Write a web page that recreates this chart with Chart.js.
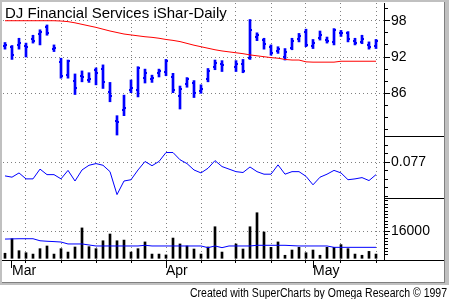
<!DOCTYPE html>
<html>
<head>
<meta charset="utf-8">
<script src="https://cdn.jsdelivr.net/npm/chart.js@4/dist/chart.umd.min.js"></script>
<style>
  html, body { margin: 0; padding: 0; background: #fff; }
</style>
</head>
<body>
<canvas id="chart" width="449" height="299"></canvas>
<script>
// trading day index (one slot per weekday, day 32 has no data)
var days = [0, 1, 2, 3, 4, 5, 6, 7, 8, 9, 10, 11, 12, 13, 14, 15, 16, 17, 18, 19,
  20, 21, 22, 23, 24, 25, 26, 27, 28, 29, 30, 31, 32, 33, 34, 35, 36, 37, 38, 39,
  40, 41, 42, 43, 44, 45, 46, 47, 48, 49, 50, 51, 52, 53];

var priceHigh = [94.4, 93.9, 95.1, 94.3, 95.6, 96.5, 97.3, 94.0, 91.8, 91.5,
  89.2, 89.7, 89.4, 90.2, 90.7, 87.8, 82.3, 85.7, 88.2, 90.4,
  90.0, 89.0, 90.0, 91.6, 89.3, 87.2, 88.6, 88.1, 87.4, 90.1,
  91.5, 91.4, null, 91.4, 91.6, 98.2, 96.0, 95.1, 94.0, 93.7,
  93.4, 95.1, 95.9, 96.6, 94.9, 96.3, 95.3, 96.7, 96.4, 96.2,
  95.1, 95.6, 94.5, 94.9];
var priceLow = [93.3, 91.6, 93.3, 92.0, 94.3, 94.0, 95.6, 92.9, 88.5, 88.5,
  85.8, 87.9, 87.8, 87.4, 86.8, 84.6, 79.1, 82.3, 86.1, 85.4,
  87.7, 87.8, 88.7, 88.9, 86.1, 83.4, 87.0, 85.3, 86.0, 87.9,
  89.9, 89.6, null, 89.6, 89.4, 91.6, 94.7, 93.3, 92.3, 92.6,
  91.5, 93.2, 94.5, 93.7, 93.4, 94.8, 94.3, 94.0, 95.4, 94.5,
  94.0, 94.2, 93.3, 93.4];
var priceOpen = [93.8, 93.7, 94.0, 93.9, 94.9, 95.8, 96.9, 93.4, 91.2, 89.0,
  88.0, 88.9, 88.2, 89.8, 90.0, 86.2, 81.4, 83.2, 86.6, 86.5,
  88.6, 88.3, 89.3, 89.5, 88.7, 85.6, 87.5, 87.7, 86.4, 88.3,
  90.4, 90.9, null, 90.3, 90.9, 91.9, 95.3, 94.8, 93.6, 93.0,
  92.0, 93.5, 95.0, 96.2, 93.8, 95.2, 94.8, 94.4, 95.9, 95.9,
  94.6, 94.5, 94.0, 93.8];
var priceClose = [94.0, 92.4, 94.3, 93.6, 94.6, 96.2, 96.0, 93.5, 88.9, 91.3,
  86.8, 88.7, 88.4, 89.4, 87.8, 85.6, 81.2, 83.6, 86.9, 90.2,
  89.3, 88.6, 89.7, 91.4, 86.6, 86.7, 88.3, 86.0, 86.7, 89.7,
  91.0, 90.6, null, 90.8, 89.7, 96.5, 95.6, 94.1, 92.7, 93.3,
  92.9, 94.7, 95.4, 94.0, 94.3, 95.6, 94.7, 96.5, 96.0, 95.0,
  94.3, 95.0, 93.6, 94.6];
var priceAvg = [98.0, 98.0, 98.0, 98.0, 98.0, 98.0, 98.0, 98.0, 97.95, 97.85,
  97.65, 97.4, 97.15, 96.9, 96.6, 96.3, 96.05, 95.8, 95.65, 95.5,
  95.35, 95.25, 95.1, 94.9, 94.75, 94.55, 94.25, 93.95, 93.7, 93.45,
  93.2, 93.0, 92.85, 92.7, 92.55, 92.35, 92.2, 92.05, 91.9, 91.8,
  91.6, 91.5, 91.5, 91.2, 91.15, 91.15, 91.15, 91.15, 91.3, 91.3,
  91.3, 91.3, 91.3, 91.3];
var indicator = [0.0738, 0.0735, 0.0745, 0.0731, 0.0731, 0.0754, 0.0741, 0.0741, 0.0731, 0.0751,
  0.0726, 0.0752, 0.0763, 0.0767, 0.0763, 0.0748, 0.0694, 0.0726, 0.0729, 0.0752,
  0.0772, 0.0762, 0.0772, 0.0793, 0.0793, 0.0776, 0.0767, 0.0752, 0.0745, 0.0756,
  0.0774, 0.0760, 0.0754, 0.0748, 0.0746, 0.0759, 0.0748, 0.0742, 0.0742, 0.0764,
  0.0742, 0.0748, 0.0748, 0.0737, 0.0717, 0.0735, 0.0742, 0.0751, 0.0745, 0.0729,
  0.0731, 0.0734, 0.0727, 0.0741];
var volume = [3000, 11600, 4500, 3300, 2500, 5700, 7300, 2500, 5700, 3700,
  6700, 18000, 6900, 5700, 10400, 14400, 10400, 10800, 3700, 5700,
  9700, 2500, 2500, 2000, 12000, 8500, 7300, 5500, 2500, 6700,
  18700, 3700, null, 8500, 5500, 18700, 27000, 15600, 6500, 9700,
  1800, 4900, 6500, 3300, 4900, 1800, 6500, 6500, 8100, 5700,
  2500, 1800, 4100, 2500];
var volumeAvg = [11400, 11500, 11600, 11600, 11600, 10400, 10100, 9900, 9650, 8500,
  8500, 8500, 7900, 7300, 7300, 7300, 7300, 7300, 7300, 7300,
  7700, 7300, 7300, 7300, 7300, 7300, 7300, 7300, 7300, 6300,
  7300, 6300, 7300, 7300, 7300, 7300, 7700, 7700, 7700, 7700,
  7700, 7500, 7300, 7300, 7300, 7300, 7300, 6500, 6500, 6500,
  6500, 6500, 6500, 6500];

var weekDays = [3, 8, 13, 18, 23, 28, 33, 38, 43, 48, 53];
var monthDays = [1, 23, 44];
var monthNames = ["Mar", "Apr", "May"];
var priceTicks = [98, 92, 86];
var priceMinor = [100, 96, 94, 90, 88, 84, 82, 80];
var indicatorTicks = [0.077];
var indicatorMinor = [0.083, 0.081, 0.079, 0.075, 0.073, 0.071, 0.069];
var volumeTicks = [16000];
var volumeMinor = [2000, 4000, 6000, 8000, 10000, 12000, 14000, 18000, 20000,
  22000, 24000, 26000, 28000, 30000, 32000, 34000];

var chartTitle = "DJ Financial Services iShar-Daily";
var footer = "Created with SuperCharts by Omega Research \u00a9 1997";

var FONT = '"Liberation Sans", Arial, sans-serif';
Chart.defaults.font.family = FONT;

function points(values) {
  var out = [];
  days.forEach(function (d, i) {
    if (values[i] != null) out.push({ x: d, y: values[i] });
  });
  return out;
}
function ranges() {
  var out = [];
  days.forEach(function (d, i) {
    if (priceHigh[i] != null) out.push({ x: d, y: [priceLow[i], priceHigh[i]] });
  });
  return out;
}
function fixedTicks(list) {
  return function (scale) {
    scale.ticks = list.map(function (v) { return { value: v }; });
  };
}
function fitRight(scale) {
  scale.width = 60;
  scale.paddingTop = 0;
  scale.paddingBottom = 0;
}
function row(p) { return Math.round(p - 0.5); }

var decor = {
  id: "decor",
  beforeDraw: function (chart) {
    var ctx = chart.ctx;
    ctx.save();
    ctx.fillStyle = "#fff";
    ctx.fillRect(0, 0, 449, 299);
    ctx.fillStyle = "#c0c0c0";
    ctx.fillRect(0, 0, 449, 285);
    ctx.fillStyle = "#fff";
    ctx.fillRect(2, 2, 442, 280);
    ctx.fillStyle = "#808080";
    ctx.fillRect(444, 2, 1, 281);
    ctx.fillRect(2, 282, 443, 1);
    ctx.restore();
  },
  beforeDatasetsDraw: function (chart) {
    var ctx = chart.ctx;
    ctx.save();
    ctx.font = "15px " + FONT;
    var w = ctx.measureText(chartTitle).width;
    ctx.fillStyle = "#fff";
    ctx.fillRect(3, 3, w + 4, 17);
    ctx.fillStyle = "#000";
    ctx.textBaseline = "alphabetic";
    ctx.fillText(chartTitle, 5, 18);
    ctx.restore();
  },
  afterDatasetDraw: function (chart, args) {
    if (args.index !== 3) return;
    var ctx = chart.ctx, x = chart.scales.x, y = chart.scales.yP;
    ctx.save();
    ctx.fillStyle = "#0000ff";
    days.forEach(function (d, i) {
      if (priceOpen[i] == null) return;
      var px = Math.round(x.getPixelForValue(d));
      ctx.fillRect(px - 2, Math.round(y.getPixelForValue(priceOpen[i])) - 1, 1, 2);
      ctx.fillRect(px + 1, Math.round(y.getPixelForValue(priceClose[i])) - 1, 1, 2);
    });
    ctx.restore();
  },
  afterDraw: function (chart) {
    var ctx = chart.ctx, s = chart.scales;
    ctx.save();
    ctx.fillStyle = "#000";
    // pane separators in the axis column and the full-width base line
    ctx.fillRect(s.yP.left, Math.round(s.yP.bottom), 444 - s.yP.left, 1);
    ctx.fillRect(s.yI.left, Math.round(s.yI.bottom), 444 - s.yI.left, 1);
    ctx.fillRect(2, Math.round(s.x.top), 442, 1);
    // minor ticks
    [[s.yP, priceMinor], [s.yI, indicatorMinor], [s.yV, volumeMinor]].forEach(function (p) {
      p[1].forEach(function (v) {
        var py = p[0].getPixelForValue(v);
        if (py < p[0].top + 1 || py > p[0].bottom - 1) return;
        ctx.fillRect(p[0].left + 1, row(py), 3, 1);
      });
    });
    // longer month ticks
    monthDays.forEach(function (d) {
      ctx.fillRect(row(s.x.getPixelForValue(d)), Math.round(s.x.top) + 3, 1, 5);
    });
    // footer
    ctx.font = "12px " + FONT;
    var w = ctx.measureText(footer).width;
    ctx.translate(447, 297);
    ctx.scale(257 / w, 1);
    ctx.textAlign = "right";
    ctx.textBaseline = "alphabetic";
    ctx.fillText(footer, 0, 0);
    ctx.restore();
  }
};

var ctx = document.getElementById("chart").getContext("2d");
var chart = new Chart(ctx, {
  type: "line",
  data: {
    datasets: [
      { label: "Average", data: points(priceAvg), yAxisID: "yP",
        borderColor: "#ff0000", borderWidth: 1, pointRadius: 0, tension: 0, spanGaps: true },
      { label: "Indicator", data: points(indicator), yAxisID: "yI",
        borderColor: "#0000ff", borderWidth: 1, pointRadius: 0, tension: 0 },
      { label: "Volume average", data: points(volumeAvg), yAxisID: "yV",
        borderColor: "#0000ff", borderWidth: 1, pointRadius: 0, tension: 0 },
      { type: "bar", label: "Price", data: ranges(), yAxisID: "yP",
        backgroundColor: "#0000ff", barThickness: 2, grouped: false, borderWidth: 0 },
      { type: "bar", label: "Volume", data: points(volume), yAxisID: "yV",
        backgroundColor: "#000000", barThickness: 2, grouped: false, borderWidth: 0 }
    ]
  },
  options: {
    responsive: false,
    animation: false,
    devicePixelRatio: 1,
    events: [],
    layout: { padding: { left: 3, top: 3, right: 5, bottom: 17 } },
    plugins: { legend: { display: false }, tooltip: { enabled: false } },
    scales: {
      x: {
        type: "linear",
        min: -2 / 7,
        max: 379 / 7,
        offset: false,
        afterBuildTicks: function (scale) {
          var list = weekDays.concat(monthDays.filter(function (d) { return weekDays.indexOf(d) < 0; }));
          list.sort(function (a, b) { return a - b; });
          scale.ticks = list.map(function (v) { return { value: v }; });
        },
        afterFit: function (scale) {
          scale.height = 22;
          scale.paddingLeft = 0;
          scale.paddingRight = 0;
        },
        grid: {
          offset: false,
          color: function (c) {
            return c.tick && weekDays.indexOf(c.tick.value) >= 0 ? "#808080" : "rgba(0,0,0,0)";
          },
          tickColor: "#000",
          tickLength: 3
        },
        border: { color: "#000", dash: [1, 3] },
        ticks: {
          autoSkip: false, maxRotation: 0, align: "start", padding: 0,
          color: "#000", font: { size: 14 },
          callback: function (v) {
            var k = monthDays.indexOf(v);
            return k >= 0 ? monthNames[k] : "";
          }
        }
      },
      yP: {
        type: "linear", position: "right", stack: "panes", stackWeight: 133,
        min: 78.94, max: 100.93, beginAtZero: false,
        afterBuildTicks: fixedTicks(priceTicks),
        afterFit: fitRight,
        grid: { color: "#808080", tickColor: "#000", tickLength: 6 },
        border: { color: "#000", dash: [1, 3] },
        ticks: { padding: 1, color: "#000", font: { size: 14 }, callback: function (v) { return String(v); } }
      },
      yI: {
        type: "linear", position: "right", stack: "panes", stackWeight: 62,
        min: 0.0686, max: 0.08319, beginAtZero: false,
        afterBuildTicks: fixedTicks(indicatorTicks),
        afterFit: fitRight,
        grid: { color: "#808080", tickColor: "#000", tickLength: 6 },
        border: { color: "#000", dash: [1, 3] },
        ticks: { padding: 1, color: "#000", font: { size: 14 }, callback: function (v) { return String(v); } }
      },
      yV: {
        type: "linear", position: "right", stack: "panes", stackWeight: 62,
        min: -1007, max: 35733, beginAtZero: false,
        afterBuildTicks: fixedTicks(volumeTicks),
        afterFit: fitRight,
        grid: { color: "#808080", tickColor: "#000", tickLength: 6 },
        border: { color: "#000", dash: [1, 3] },
        ticks: { padding: 1, color: "#000", font: { size: 14 }, callback: function (v) { return String(v); } }
      }
    }
  },
  plugins: [decor]
});
</script>
</body>
</html>
